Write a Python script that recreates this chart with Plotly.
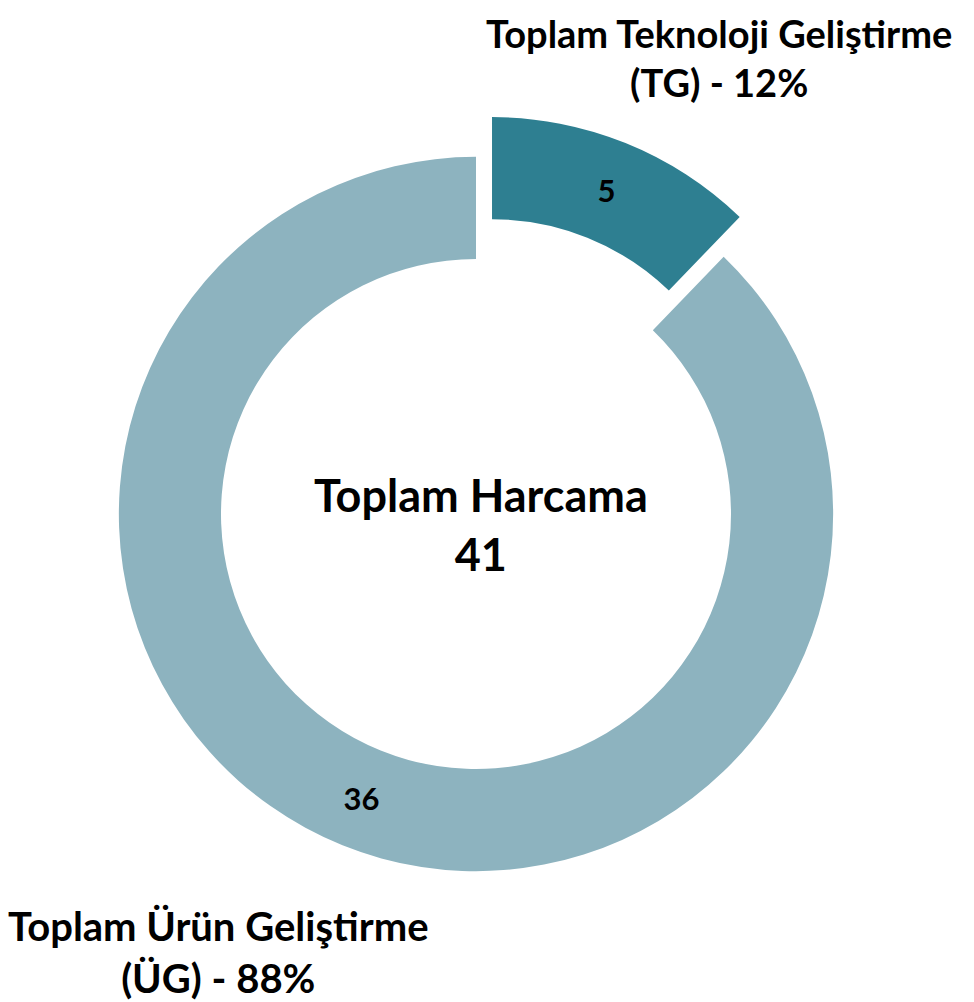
import plotly.graph_objects as go

labels = ["Toplam Teknoloji Geliştirme (TG)", "Toplam Ürün Geliştirme (ÜG)"]
values = [5, 36]
colors = ["#2E7F91", "#8DB3BF"]
pulls = [0.12, 0]
total = sum(values)
shares = [round(v / total * 100) for v in values]

W, H = 974, 1002
FONT = "Lato"

fig = go.Figure(go.Pie(
    labels=labels,
    values=values,
    sort=False,
    direction="clockwise",
    rotation=0,
    pull=pulls,
    hole=0.714,
    marker=dict(colors=colors, line=dict(width=0)),
    textinfo="value",
    textposition="inside",
    insidetextorientation="horizontal",
    textfont=dict(family=FONT, size=31, color="black", weight="bold"),
    showlegend=False,
    hoverinfo="label+value+percent",
    domain=dict(x=[68 / W, 868 / W], y=[1 - 906 / H, 1 - 106 / H]),
))

ann = [
    dict(text=f"Toplam Harcama<br>{total}", x=473 / W, y=1 - 516 / H,
         font=dict(size=45)),
    dict(text=f"Toplam Teknoloji Geliştirme<br>(TG) - {shares[0]}%", x=711 / W, y=1 - 50 / H,
         font=dict(size=38)),
    dict(text=f"Toplam Ürün Geliştirme<br>(ÜG) - {shares[1]}%", x=210 / W, y=1 - 944 / H,
         font=dict(size=40)),
]
for a in ann:
    a.update(xref="paper", yref="paper", xanchor="center", yanchor="middle",
             showarrow=False, align="center")
    a["font"].update(family=FONT, color="black", weight="bold")

fig.update_layout(
    width=W, height=H,
    margin=dict(l=0, r=0, t=0, b=0),
    paper_bgcolor="white",
    plot_bgcolor="white",
    annotations=ann,
)

fig.write_html("out.html")
